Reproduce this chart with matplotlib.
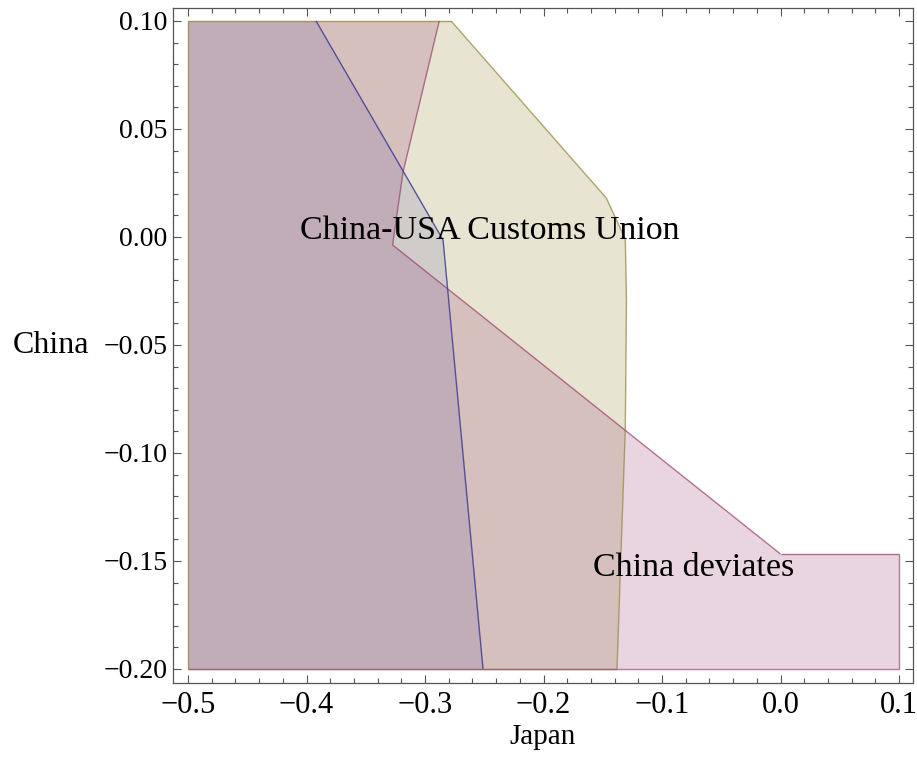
import numpy as np
import matplotlib.pyplot as plt
from matplotlib.ticker import MultipleLocator, FuncFormatter

# region boundaries (Japan, China)
cu_japan = [-0.5, -0.278, -0.147, -0.131, -0.130, -0.131, -0.138, -0.5]
cu_china = [0.1, 0.1, 0.018, -0.001, -0.029, -0.089, -0.2, -0.2]

dev_japan = [-0.5, -0.288, -0.3186, -0.3274, 0.0, 0.1, 0.1, -0.5]
dev_china = [0.1, 0.1, 0.030, -0.0037, -0.1468, -0.1468, -0.2, -0.2]

base_japan = [-0.5, -0.392, -0.2848, -0.2511, -0.5]
base_china = [0.1, 0.1, -0.0014, -0.2, -0.2]

labels = ["China-USA Customs Union", "China deviates"]
label_japan = [-0.245, -0.073]
label_china = [0.003, -0.153]

c_blue = (0.24, 0.24, 0.6)
c_mag = (0.6, 0.24, 0.442893)
c_olive = (0.6, 0.547014, 0.24)

plt.rcParams['font.family'] = ['Liberation Serif', 'DejaVu Serif']

fig = plt.figure(figsize=(9.17, 7.57), dpi=100)
ax = fig.add_axes([0.1887, 0.0978, 0.8069, 0.8916])


def region(xs, ys, col, fa, la, skip=()):
    ax.fill(xs, ys, facecolor=col + (fa,), edgecolor='none')
    xs = list(xs) + [xs[0]]
    ys = list(ys) + [ys[0]]
    for i in range(len(xs) - 1):
        x0, x1, y0, y1 = xs[i], xs[i + 1], ys[i], ys[i + 1]
        side = None
        if x0 == x1 == -0.5:
            side = 'left'
        elif y0 == y1 == 0.1:
            side = 'top'
        elif y0 == y1 == -0.2:
            side = 'bottom'
        if side in skip:
            continue
        ax.plot([x0, x1], [y0, y1], color=col, alpha=la, lw=1.0, solid_capstyle='butt')


region(cu_japan, cu_china, c_olive, 0.23, 0.75)
region(dev_japan, dev_china, c_mag, 0.21, 0.7, skip=('left', 'top'))
region(base_japan, base_china, c_blue, 0.14, 0.85, skip=('left', 'top', 'bottom'))

for t, x, y in zip(labels, label_japan, label_china):
    ax.text(x, y, t, ha='center', va='center', fontsize=24.5, color='black')

ax.set_xlim(-0.5127, 0.1118)
ax.set_ylim(-0.2065, 0.106)

ax.xaxis.set_major_locator(MultipleLocator(0.1))
ax.xaxis.set_minor_locator(MultipleLocator(0.02))
ax.yaxis.set_major_locator(MultipleLocator(0.05))
ax.yaxis.set_minor_locator(MultipleLocator(0.01))
ax.xaxis.set_major_formatter(FuncFormatter(lambda v, p: ('%.1f' % v).replace('-', '\u2212') if abs(v) > 1e-9 else '0.0'))
ax.yaxis.set_major_formatter(FuncFormatter(lambda v, p: ('%.2f' % v).replace('-', '\u2212') if abs(v) > 1e-9 else '0.00'))

ax.tick_params(which='both', direction='in', top=True, right=True, color='#555555', width=0.8)
ax.tick_params(which='major', length=6)
ax.tick_params(which='minor', length=3.5)
ax.tick_params(axis='x', labelsize=22, pad=6)
ax.tick_params(axis='y', labelsize=20, pad=4)
for s in ax.spines.values():
    s.set_color('#555555')
    s.set_linewidth(0.9)

ax.set_xlabel('Japan', fontsize=21, labelpad=3)
ax.set_ylabel('China', fontsize=23, rotation=0, ha='right', va='center', labelpad=10)

fig.savefig('out.png', dpi=100)
